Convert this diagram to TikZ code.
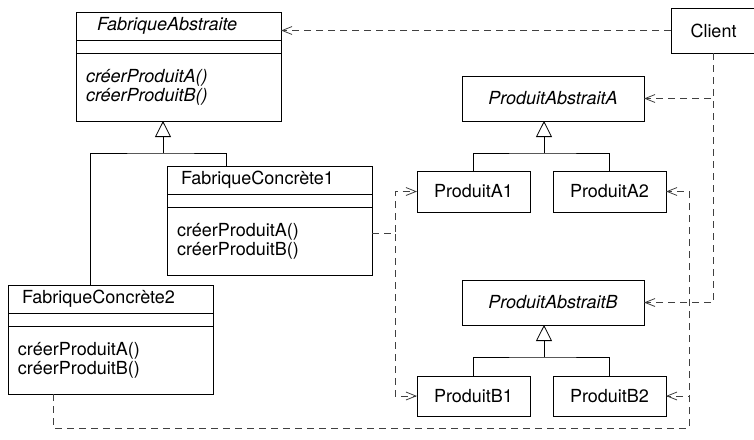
\documentclass[tikz,border=0pt]{standalone}
\usepackage{fontspec}
\setmainfont{TeX Gyre Heros}
\usetikzlibrary{arrows.meta, positioning}
\tikzstyle{cName} = [rectangle, draw=black, outer sep=0pt, inner xsep=7pt, inner ysep=0pt, text width=88.5pt, align=left, minimum height=14pt]
\tikzstyle{cAttr} = [rectangle, draw=black, outer sep=0pt, inner sep=0pt, minimum width=102.5pt, minimum height=6.5pt]
\tikzstyle{cOps} = [rectangle, draw=black, outer sep=0pt, inner xsep=5pt, inner ysep=0pt, text width=92.5pt, align=left, minimum height=34pt]
\tikzstyle{cBox} = [rectangle, draw=black, outer sep=0pt, inner sep=0pt, minimum height=22.5pt]
\tikzstyle{cInherit} = [-{Triangle[open, length=8pt, width=8pt]}]
\tikzstyle{cDepend} = [draw=black!75, dash pattern=on 3.5pt off 2.5pt, -{Straight Barb[length=5pt, width=4pt]}]

\begin{document}
\begin{tikzpicture}[x=0.5pt, y=-0.5pt, font=\fontsize{9}{9.5}\selectfont]
    \useasboundingbox (0,0) rectangle (754,439);

    % classes on the left
    \node (fa) [cName, anchor=north west, inner xsep=10.5pt, text width=81.5pt] at (76,12) {\textit{FabriqueAbstraite}};
    \node (faA) [cAttr, below=0pt of fa] {};
    \node (faM) [cOps, below=0pt of faA] {\textit{créerProduitA()}\\\textit{créerProduitB()}};

    \node (fc1) [cName, anchor=north west] at (167,166) {FabriqueConcrète1};
    \node (fc1A) [cAttr, below=0pt of fc1] {};
    \node (fc1M) [cOps, below=0pt of fc1A] {créerProduitA()\\créerProduitB()};

    \node (fc2) [cName, anchor=north west] at (8,285) {FabriqueConcrète2};
    \node (fc2A) [cAttr, below=0pt of fc2] {};
    \node (fc2M) [cOps, below=0pt of fc2A] {créerProduitA()\\créerProduitB()};

    % client and products
    \node (client) [cBox, anchor=north west, minimum width=42.5pt] at (671,8) {Client};
    \node (paa) [cBox, anchor=north west, minimum width=91pt] at (462,76) {\textit{ProduitAbstraitA}};
    \node (pa1) [cBox, anchor=north west, minimum width=56.5pt, minimum height=20.5pt] at (417,171) {ProduitA1};
    \node (pa2) [cBox, right=11.5pt of pa1, minimum width=56.5pt, minimum height=20.5pt] {ProduitA2};
    \node (pab) [cBox, anchor=north west, minimum width=91pt] at (462,280) {\textit{ProduitAbstraitB}};
    \node (pb1) [cBox, anchor=north west, minimum width=56.5pt, minimum height=20pt] at (417,376) {ProduitB1};
    \node (pb2) [cBox, right=11.5pt of pb1, minimum width=56.5pt, minimum height=20pt] {ProduitB2};

    % inheritance
    \coordinate (faBar) at (163,153);
    \draw [cInherit] (faBar) -- (faBar |- faM.south);
    \draw ([xshift=41pt]fc2.north west) |- (faBar) -| ([xshift=29.5pt]fc1.north west);

    \coordinate (paaBar) at (544,153);
    \draw [cInherit] (paaBar) -- (paaBar |- paa.south);
    \draw (pa1.north) |- (paaBar) -| (pa2.north);

    \coordinate (pabBar) at (544,357);
    \draw [cInherit] (pabBar) -- (pabBar |- pab.south);
    \draw (pb1.north) |- (pabBar) -| (pb2.north);

    % dependencies
    \draw [cDepend] (client.west) -- (client.west -| fa.east);
    \draw [cDepend] (client.south) |- (paa.east);
    \draw [cDepend] (client.south) |- (pab.east);

    \coordinate (fc1Out) at ([yshift=4pt]fc1M.east);
    \coordinate (fc1Rail) at ([xshift=11.5pt]fc1Out);
    \draw [cDepend] (fc1Out) -- (fc1Rail) |- (pa1.west);
    \draw [cDepend] (fc1Out) -- (fc1Rail) |- (pb1.west);

    \coordinate (fc2Out) at ([xshift=22.5pt]fc2M.south west);
    \coordinate (fc2Rail) at (689,428);
    \draw [cDepend] (fc2Out) |- (fc2Rail) |- (pa2.east);
    \draw [cDepend] (fc2Out) |- (fc2Rail) |- (pb2.east);
\end{tikzpicture}
\end{document}
